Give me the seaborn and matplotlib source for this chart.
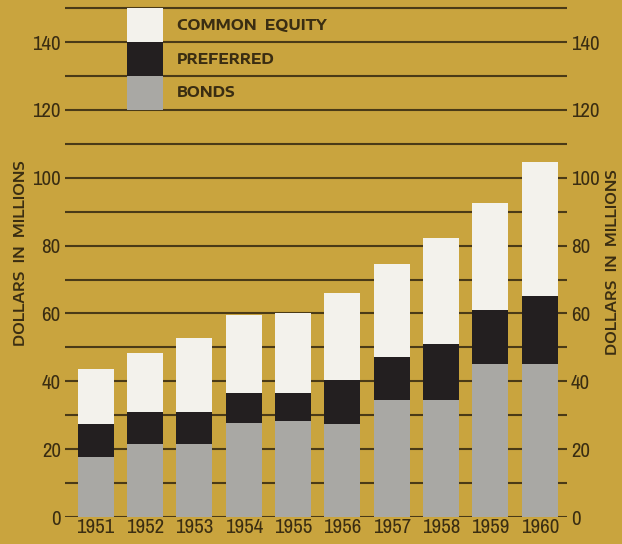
import matplotlib
matplotlib.use("Agg")
import matplotlib.pyplot as plt
import seaborn as sns
import pandas as pd
from matplotlib.ticker import MultipleLocator

# Financing by year, dollars in millions
years = ["1951", "1952", "1953", "1954", "1955", "1956", "1957", "1958", "1959", "1960"]
bonds = [17.8, 21.5, 21.5, 27.6, 28.4, 27.4, 34.5, 34.5, 45.0, 45.1]
preferred = [9.5, 9.5, 9.5, 9.1, 8.2, 13.0, 12.6, 16.4, 15.9, 20.1]
common_equity = [16.3, 17.2, 21.8, 22.8, 23.4, 25.5, 27.4, 31.2, 31.6, 39.5]

legend_labels = ["COMMON  EQUITY", "PREFERRED", "BONDS"]
legend_band = 10  # height of each key block
axis_title = "DOLLARS  IN  MILLIONS"
y_ticks = [0, 20, 40, 60, 80, 100, 120, 140]

BG = "#C9A43E"
INK = "#3a2d12"
GRID = "#4a3a17"
C_BONDS = "#a9a8a4"
C_PREF = "#231f20"
C_COMMON = "#f3f2ec"

NUM_FONT = ["Archivo Narrow", "Roboto Condensed", "DejaVu Sans"]
CAP_FONT = ["Encode Sans Expanded", "DejaVu Sans"]

sns.set_theme(style="white")
plt.rcParams["font.family"] = NUM_FONT
plt.rcParams["font.weight"] = "medium"

df = pd.DataFrame({
    "year": years,
    "bonds": bonds,
    "preferred": preferred,
    "common": common_equity,
})
df["top_pref"] = df["bonds"] + df["preferred"]
df["top_all"] = df["top_pref"] + df["common"]

fig = plt.figure(figsize=(6.22, 5.44), dpi=100, facecolor=BG)
ax = fig.add_axes([0.1045, 0.0496, 0.807, 0.9504])
ax.set_facecolor(BG)

bar_w = 0.73
# layered bars: total first, then the lower cumulative levels drawn over it
sns.barplot(data=df, x="year", y="top_all", color=C_COMMON, width=bar_w,
            saturation=1, ax=ax, zorder=3, linewidth=0)
sns.barplot(data=df, x="year", y="top_pref", color=C_PREF, width=bar_w,
            saturation=1, ax=ax, zorder=3, linewidth=0)
sns.barplot(data=df, x="year", y="bonds", color=C_BONDS, width=bar_w,
            saturation=1, ax=ax, zorder=3, linewidth=0)

# key: stacked block above the 1952 column
key_colors = [C_COMMON, C_PREF, C_BONDS]
key_bottoms = [140, 130, 120]
for col, b, lab in zip(key_colors, key_bottoms, legend_labels):
    ax.bar(1, legend_band, bottom=b, width=bar_w, color=col, zorder=3, linewidth=0)
    ax.text(1.64, b + legend_band / 2, lab, ha="left", va="center",
            fontsize=10.5, fontweight="bold", color=INK,
            family=CAP_FONT, zorder=4)

ax.set_xlim(-0.62, 9.55)
ax.set_ylim(0, 152.4)
ax.yaxis.set_minor_locator(MultipleLocator(10))
ax.set_yticks(y_ticks)
ax.set_axisbelow(True)
ax.grid(axis="y", which="both", color=GRID, linewidth=1.5, zorder=1)
ax.grid(axis="x", visible=False)
for s in ax.spines.values():
    s.set_visible(False)

ax.tick_params(axis="y", which="both", length=0, pad=3, labelsize=15, labelcolor=INK)
ax.tick_params(axis="x", length=0, pad=1, labelsize=15, labelcolor=INK)
ax.set_xlabel("")
ax.set_ylabel("")

ax2 = ax.twinx()
ax2.set_ylim(ax.get_ylim())
ax2.set_yticks(y_ticks)
ax2.tick_params(axis="y", length=0, pad=3, labelsize=15, labelcolor=INK)
ax2.grid(False)
for s in ax2.spines.values():
    s.set_visible(False)

fig.text(0.033, 0.535, axis_title, rotation=90, ha="center", va="center",
         fontsize=10.5, fontweight="semibold", color=INK, family=CAP_FONT)
fig.text(0.984, 0.518, axis_title, rotation=90, ha="center", va="center",
         fontsize=10.5, fontweight="semibold", color=INK, family=CAP_FONT)

fig.savefig("out.png", dpi=100, facecolor=BG)
